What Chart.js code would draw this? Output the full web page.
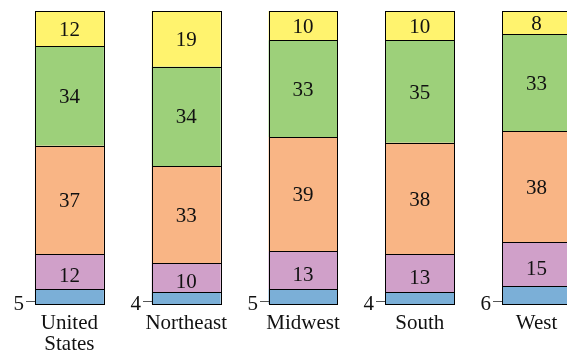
<!DOCTYPE html>
<html>
<head>
<meta charset="utf-8">
<script src="https://cdn.jsdelivr.net/npm/chart.js@4/dist/chart.umd.min.js"></script>
<style>
  html, body { margin: 0; padding: 0; background: #fff; overflow: hidden; }
  #wrap { position: absolute; left: 0; top: 0; width: 600px; height: 351px; }
</style>
</head>
<body>
<div id="wrap"><canvas id="chart" width="600" height="351"></canvas></div>
<script>
// Categories (regions)
const regions = [['United', 'States'], 'Northeast', 'Midwest', 'South', 'West'];

// Stacked segment values, bottom to top
const blueVals   = [5, 4, 5, 4, 6];
const purpleVals = [12, 10, 13, 13, 15];
const orangeVals = [37, 33, 39, 38, 38];
const greenVals  = [34, 34, 33, 35, 33];
const yellowVals = [12, 19, 10, 10, 8];

const FONT = "'Liberation Serif', 'Times New Roman', serif";

// crisp outlines, value labels inside segments, and the small tick + value for the bottom segment
const segmentLabels = {
    id: 'segmentLabels',
    afterDatasetsDraw(chart) {
        const ctx = chart.ctx;
        ctx.save();

        // outlines snapped to whole pixels
        ctx.strokeStyle = '#000';
        ctx.lineWidth = 1;
        chart.data.datasets.forEach((ds, di) => {
            chart.getDatasetMeta(di).data.forEach(bar => {
                const { x, y, base, width } = bar.getProps(['x', 'y', 'base', 'width'], true);
                const l = Math.round(x - width / 2), r = Math.round(x + width / 2);
                const t = Math.round(y), b = Math.round(base);
                ctx.strokeRect(l + 0.5, t + 0.5, r - l, b - t);
            });
        });

        ctx.font = `21px ${FONT}`;
        ctx.fillStyle = '#111';
        chart.data.datasets.forEach((ds, di) => {
            const meta = chart.getDatasetMeta(di);
            meta.data.forEach((bar, i) => {
                const { x, y, base, width } = bar.getProps(['x', 'y', 'base', 'width'], true);
                if (di === 0) {
                    const left = Math.round(x - width / 2);
                    const ty = Math.round(chart.chartArea.bottom - 3);
                    ctx.strokeStyle = '#555';
                    ctx.beginPath();
                    ctx.moveTo(left - 9, ty + 0.5);
                    ctx.lineTo(left, ty + 0.5);
                    ctx.stroke();
                    ctx.textAlign = 'right';
                    ctx.textBaseline = 'middle';
                    ctx.fillText(String(ds.data[i]), left - 11, ty + 3);
                } else {
                    const nudge = di === 1 ? 5 : 1.5;
                    ctx.textAlign = 'center';
                    ctx.textBaseline = 'middle';
                    ctx.fillText(String(ds.data[i]), x, (y + base) / 2 + nudge);
                }
            });
        });
        ctx.restore();
    }
};

const seg = (label, data, color) => ({
    label: label,
    data: data,
    backgroundColor: color,
    borderWidth: 0,
    barPercentage: 0.59,
    categoryPercentage: 1.0
});

new Chart(document.getElementById('chart'), {
    type: 'bar',
    data: {
        labels: regions,
        datasets: [
            seg('blue', blueVals, '#7bafd7'),
            seg('purple', purpleVals, '#d0a0c9'),
            seg('orange', orangeVals, '#f9b585'),
            seg('green', greenVals, '#9dd07a'),
            seg('yellow', yellowVals, '#fff36e')
        ]
    },
    options: {
        responsive: false,
        animation: false,
        layout: { padding: { left: 11, right: 5, top: 11, bottom: 0 } },
        plugins: {
            legend: { display: false },
            tooltip: { enabled: false }
        },
        scales: {
            x: {
                stacked: true,
                grid: { display: false },
                border: { display: false },
                afterFit: (scale) => { scale.height = 47; },
                ticks: {
                    color: '#111',
                    font: { family: FONT, size: 21, lineHeight: 1.0 },
                    padding: 1,
                    maxRotation: 0,
                    autoSkip: false
                }
            },
            y: {
                stacked: true,
                display: false,
                min: 0,
                max: 100
            }
        }
    },
    plugins: [segmentLabels]
});
</script>
</body>
</html>
